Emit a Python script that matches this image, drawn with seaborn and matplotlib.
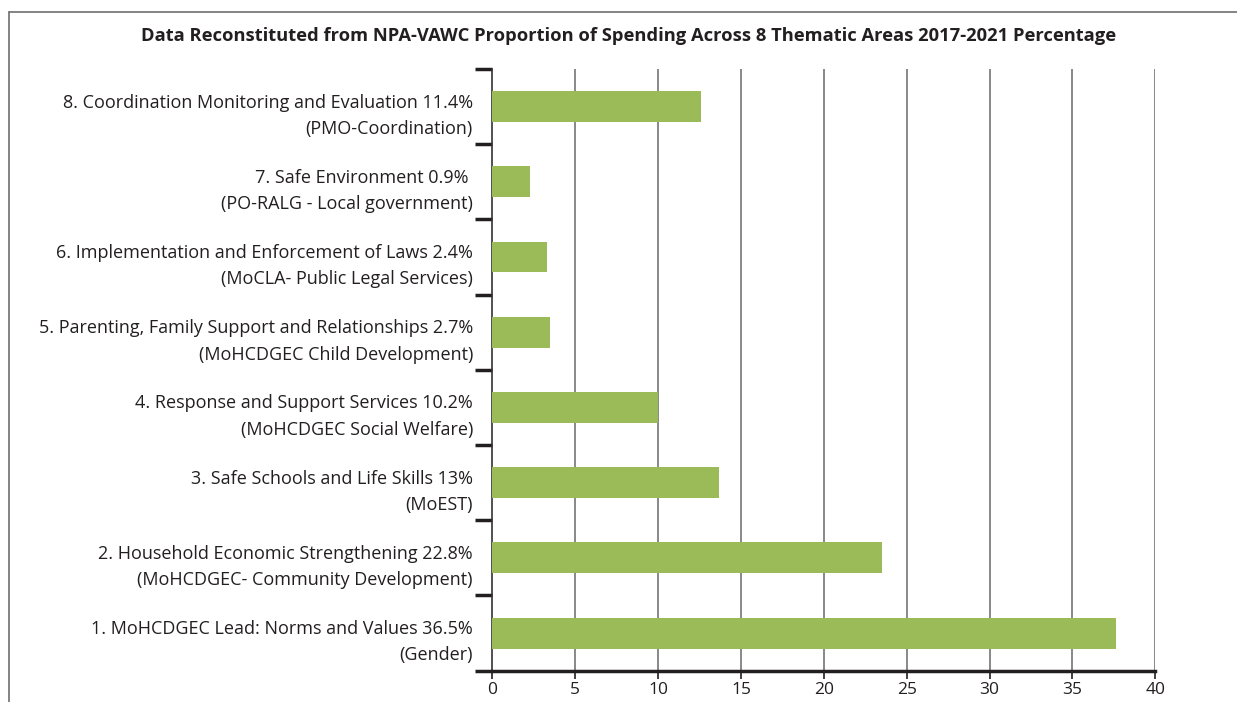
import matplotlib
matplotlib.use("Agg")
import matplotlib.pyplot as plt
import matplotlib.transforms as mtransforms
from matplotlib.lines import Line2D
import seaborn as sns
import pandas as pd

# dati (dall'alto verso il basso)
areas = [
    "8. Coordination Monitoring and Evaluation 11.4%\n(PMO-Coordination)",
    "7. Safe Environment 0.9% \n(PO-RALG - Local government)",
    "6. Implementation and Enforcement of Laws 2.4%\n(MoCLA- Public Legal Services)",
    "5. Parenting, Family Support and Relationships 2.7%\n(MoHCDGEC Child Development)",
    "4. Response and Support Services 10.2%\n(MoHCDGEC Social Welfare)",
    "3. Safe Schools and Life Skills 13%\n(MoEST)",
    "2. Household Economic Strengthening 22.8%\n(MoHCDGEC- Community Development)",
    "1. MoHCDGEC Lead: Norms and Values 36.5%\n(Gender)",
]
values = [12.6, 2.3, 3.3, 3.5, 10.0, 13.7, 23.5, 37.6]
x_ticks = [0, 5, 10, 15, 20, 25, 30, 35, 40]
title = "Data Reconstituted from NPA-VAWC Proportion of Spending Across 8 Thematic Areas 2017-2021 Percentage"

df = pd.DataFrame({"area": areas, "value": values})

sns.set_style("white")
plt.rcParams["font.family"] = ["Open Sans", "DejaVu Sans"]

fig = plt.figure(figsize=(12.37, 7.02), dpi=100)
ax = fig.add_axes([0.398, 0.0446, 0.536, 0.857])

sns.barplot(data=df, x="value", y="area", orient="h", color="#9BBB59",
            width=0.41, saturation=1, linewidth=0, ax=ax, zorder=3)

ax.set_xlim(0, 40)
ax.set_ylim(len(areas) - 0.5, -0.5)
ax.set_xticks(x_ticks)
ax.set_xlabel("")
ax.set_ylabel("")

# griglia verticale grigia
for xv in x_ticks[1:]:
    ax.axvline(xv, color="#7f7f7f", lw=1.3, zorder=1)

# tick maggiori ai bordi delle categorie, etichette come tick minori
ax.set_yticks([i - 0.5 for i in range(len(areas) + 1)])
ax.set_yticklabels([])
ax.set_yticks(range(len(areas)), minor=True)
ax.set_yticklabels(areas, minor=True, fontsize=13, color="#231f20",
                   linespacing=1.6)
ax.tick_params(axis="y", which="major", direction="out", length=12, width=2.5,
               color="#231f20", left=True)
ax.tick_params(axis="y", which="minor", length=0, pad=14)
offset = mtransforms.ScaledTranslation(0, -0.03, fig.dpi_scale_trans)
for lab in ax.get_yticklabels(minor=True):
    lab.set_transform(lab.get_transform() + offset)
    lab.set_horizontalalignment("right")

ax.tick_params(axis="x", direction="out", length=6, width=1.2, color="#231f20",
               labelsize=12.5, labelcolor="#231f20", bottom=True, pad=2)

for s in ["top", "right"]:
    ax.spines[s].set_visible(False)
ax.spines["left"].set_color("#333333")
ax.spines["left"].set_linewidth(1.2)
ax.spines["bottom"].set_color("#231f20")
ax.spines["bottom"].set_linewidth(2.5)

fig.text(0.508, 0.949, title, ha="center", va="center", fontsize=13.2,
         fontweight="bold", color="#231f20")

# cornice esterna
W, H = 1237, 702
fig.add_artist(Line2D([9 / W, 1], [1 - 12 / H, 1 - 12 / H], color="#6e6e6e", lw=1.2))
fig.add_artist(Line2D([9 / W, 9 / W], [0, 1 - 12 / H], color="#6e6e6e", lw=1.2))

fig.savefig("out.png", dpi=100)
